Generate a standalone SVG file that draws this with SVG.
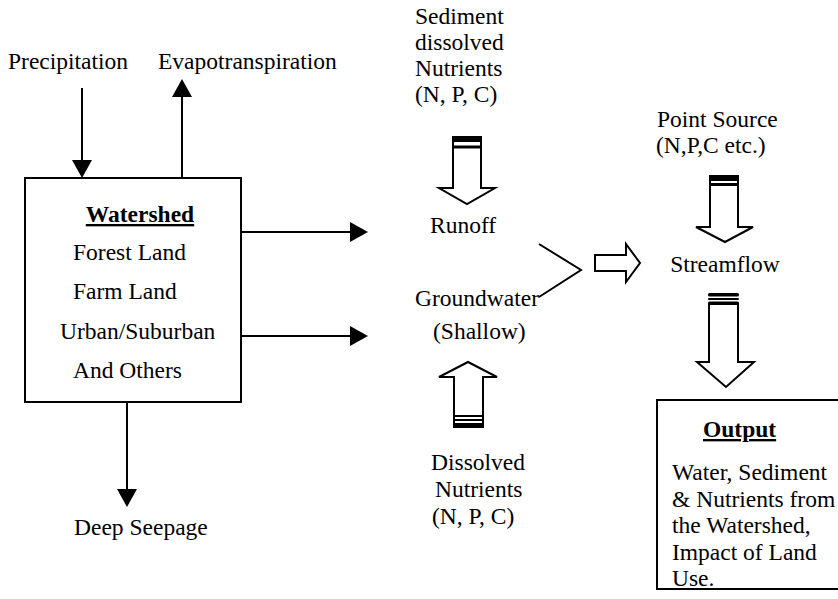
<svg xmlns="http://www.w3.org/2000/svg" width="838" height="599" viewBox="0 0 838 599">
<style>
text { font-family: "Liberation Serif", "Times New Roman", serif; font-size: 23.5px; fill: #000; }
.b { font-weight: bold; text-decoration: underline; }
.box { fill: #fff; stroke: #000; stroke-width: 2; }
.ln { fill: none; stroke: #000; stroke-width: 2; }
.blk { fill: #fff; stroke: #000; stroke-width: 2; stroke-linejoin: miter; }
.bar { fill: #000; }
</style>
<defs>
<marker id="ah" viewBox="0 0 18 20" refX="8" refY="10" markerWidth="18" markerHeight="20" markerUnits="userSpaceOnUse" orient="auto">
<path d="M0,0 L18,10 L0,20 Z" fill="#000"/>
</marker>
</defs>
<rect width="838" height="599" fill="#fff"/>

<g id="precipitation"><text x="8" y="69">Precipitation</text></g>
<g id="evapotranspiration"><text x="158" y="69">Evapotranspiration</text></g>

<g id="watershed">
<rect class="box" x="25" y="178" width="216" height="224"/>
<text class="b" x="140" y="222" text-anchor="middle">Watershed</text>
<text x="73" y="260">Forest Land</text>
<text x="73" y="299">Farm Land</text>
<text x="60" y="339">Urban/Suburban</text>
<text x="73" y="378">And Others</text>
</g>

<g id="deep-seepage"><text x="74" y="535">Deep Seepage</text></g>

<g id="sediment">
<text x="415" y="24">Sediment</text>
<text x="415" y="50">dissolved</text>
<text x="415" y="76">Nutrients</text>
<text x="415" y="102">(N, P, C)</text>
</g>

<g id="runoff"><text x="430" y="233">Runoff</text></g>

<g id="groundwater">
<text x="415" y="306">Groundwater</text>
<text x="433" y="339">(Shallow)</text>
</g>

<g id="dissolved-nutrients">
<text x="431" y="470">Dissolved</text>
<text x="435" y="497">Nutrients</text>
<text x="432" y="524">(N, P, C)</text>
</g>

<g id="point-source">
<text x="657" y="127">Point Source</text>
<text x="656" y="153">(N,P,C etc.)</text>
</g>

<g id="streamflow"><text x="725" y="272" text-anchor="middle">Streamflow</text></g>

<g id="output">
<rect class="box" x="657" y="400" width="195" height="189"/>
<text class="b" x="703" y="437">Output</text>
<text x="672" y="480">Water, Sediment</text>
<text x="672" y="507">&amp; Nutrients from</text>
<text x="672" y="533">the Watershed,</text>
<text x="672" y="560">Impact of Land</text>
<text x="672" y="586">Use.</text>
</g>

<g id="connectors">
<line class="ln" x1="82" y1="88" x2="82" y2="168" marker-end="url(#ah)"/>
<line class="ln" x1="182" y1="178" x2="182" y2="89" marker-end="url(#ah)"/>
<line class="ln" x1="241" y1="232" x2="358" y2="232" marker-end="url(#ah)"/>
<line class="ln" x1="241" y1="336" x2="358" y2="336" marker-end="url(#ah)"/>
<line class="ln" x1="127" y1="402" x2="127" y2="497" marker-end="url(#ah)"/>

<g id="arrow-sediment-runoff">
<path class="blk" d="M453,137 L453,188 L439,188 L467,204 L495,188 L481,188 L481,137 Z"/>
<rect class="bar" x="452" y="136.5" width="30" height="5.5"/>
<rect class="bar" x="452" y="145.5" width="30" height="3"/>
</g>

<g id="arrow-dissolved-groundwater">
<path class="blk" d="M454,427 L454,377 L439,377 L468,362 L497,377 L483,377 L483,427 Z"/>
<rect class="bar" x="453" y="415" width="31" height="2"/>
<rect class="bar" x="453" y="419" width="31" height="2"/>
<rect class="bar" x="453" y="423" width="31" height="5"/>
</g>

<polyline class="ln" points="539,244 581,270 539,297"/>
<path class="blk" d="M595,255 L626,255 L626,244 L640,263 L626,282 L626,271 L595,271 Z"/>

<g id="arrow-pointsource-streamflow">
<path class="blk" d="M710,176 L710,227 L696,227 L725,242 L753,227 L738,227 L738,176 Z"/>
<rect class="bar" x="709" y="175.5" width="30" height="5.5"/>
<rect class="bar" x="709" y="183" width="30" height="3"/>
</g>

<g id="arrow-streamflow-output">
<path class="blk" d="M709,304 L709,362 L697,362 L726,387 L754,362 L738,362 L738,304 Z"/>
<rect class="bar" x="708" y="293" width="31" height="3.5" rx="1.5"/>
<rect class="bar" x="708" y="298" width="31" height="2" rx="1"/>
<rect class="bar" x="708" y="301.5" width="31" height="3.5" rx="1.5"/>
</g>
</g>
</svg>
